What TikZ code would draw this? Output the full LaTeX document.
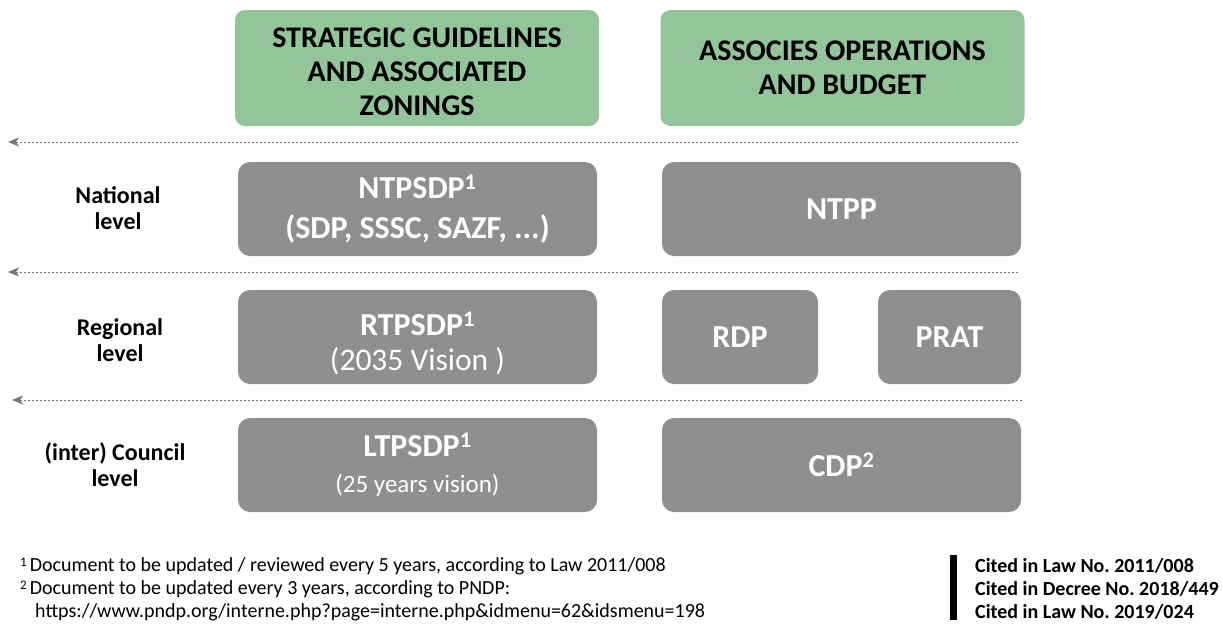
\documentclass[tikz,border=0pt]{standalone}
\usepackage{fontspec}
\setmainfont{Carlito}
\usetikzlibrary{arrows.meta}
\definecolor{greenfill}{RGB}{147,196,154}
\definecolor{grayfill}{RGB}{142,143,145}
\definecolor{linegray}{RGB}{120,120,120}
\frenchspacing
\begin{document}
\begin{tikzpicture}[x=1pt,y=-1pt,
  gbox/.style={fill=greenfill, rounded corners=10pt, minimum width=364pt, minimum height=116pt, inner sep=0pt, align=center, text=black, font=\fontsize{30}{34}\selectfont\bfseries},
  gtext/.style={align=center, inner sep=0pt, text=black, font=\fontsize{30}{34}\selectfont\bfseries},
  graybox/.style={fill=grayfill, rounded corners=12pt, minimum height=94pt, inner sep=0pt, align=center, text=white, font=\fontsize{32}{40}\selectfont\bfseries},
  graytext/.style={align=center, inner sep=0pt, text=white, font=\fontsize{32}{40}\selectfont\bfseries},
  lvlabel/.style={align=center, inner sep=0pt, font=\fontsize{24}{26}\selectfont\bfseries},
  sepline/.style={linegray, line width=1pt, dash pattern=on 2pt off 2pt, {Stealth[length=11pt,width=9pt,inset=3pt]}-},
  note/.style={anchor=west, inner sep=0pt, font=\fontsize{20}{23}\selectfont},
  cited/.style={anchor=west, inner sep=0pt, font=\fontsize{20}{23}\selectfont\bfseries}
]
\useasboundingbox (0,0) rectangle (1223,625);
% header boxes
\node[gbox] (g1) at (417,68) {};
\node[gtext] (g1t) at (417,72) {STRATEGIC GUIDELINES\\AND ASSOCIATED\\ZONINGS};
\node[gbox] (g2) at (842.5,68) {ASSOCIES OPERATIONS\\AND BUDGET};
% separators
\coordinate (s1l) at (8,142); \coordinate (s1r) at (1018,142);
\coordinate (s2l) at (8,272); \coordinate (s2r) at (1018,272);
\coordinate (s3l) at (12,400); \coordinate (s3r) at (1022,400);
\draw[sepline] (s1l) -- (s1r);
\draw[sepline] (s2l) -- (s2r);
\draw[sepline] (s3l) -- (s3r);
% national
\node[lvlabel] (lnat) at (118,208) {National\\level};
\node[graybox, minimum width=359pt] (ntpsdp) at (417.5,209) {NTPSDP\textsuperscript{1}\\(SDP, SSSC, SAZF, ...)};
\node[graybox, minimum width=359pt] (ntpp) at (841.5,209) {NTPP};
% regional
\node[lvlabel] (lreg) at (120,340) {Regional\\level};
\node[graybox, minimum width=359pt] (rtpsdp) at (417.5,337) {};
\node[graytext] (rtpsdpt) at (417.5,343) {RTPSDP\textsuperscript{1}\\[-5pt]{\mdseries\fontsize{31.5}{40}\selectfont(2035 Vision )}};
\node[graybox, minimum width=156pt] (rdp) at (740,337) {RDP};
\node[graybox, minimum width=143pt] (prat) at (949.5,337) {PRAT};
% council
\node[lvlabel] (lcou) at (115,465) {(inter) Council\\level};
\node[graybox, minimum width=359pt] (ltpsdp) at (417.5,465) {LTPSDP\textsuperscript{1}\\[-4pt]{\mdseries\fontsize{25}{30}\selectfont(25 years vision)}};
\node[graybox, minimum width=359pt] (cdp) at (841.5,465) {CDP\textsuperscript{2}};
% footnotes
\node[note] (n1) at (20,566) {{\fontsize{13}{13}\selectfont\raisebox{5pt}{1}}\hspace{3pt}Document to be updated / reviewed every 5 years, according to Law 2011/008};
\node[note] (n2) at (20,589) {{\fontsize{13}{13}\selectfont\raisebox{5pt}{2}}\hspace{3pt}Document to be updated every 3 years, according to PNDP:};
\node[note] (n3) at (35,612) {https://www.pndp.org/interne.php?page=interne.php\&idmenu=62\&idsmenu=198};
% cited
\fill (950,555) rectangle (957,620);
\node[cited] (c1) at (975,566) {Cited in Law No. 2011/008};
\node[cited] (c2) at (975,589) {Cited in Decree No. 2018/449};
\node[cited] (c3) at (975,612) {Cited in Law No. 2019/024};
\end{tikzpicture}
\end{document}
